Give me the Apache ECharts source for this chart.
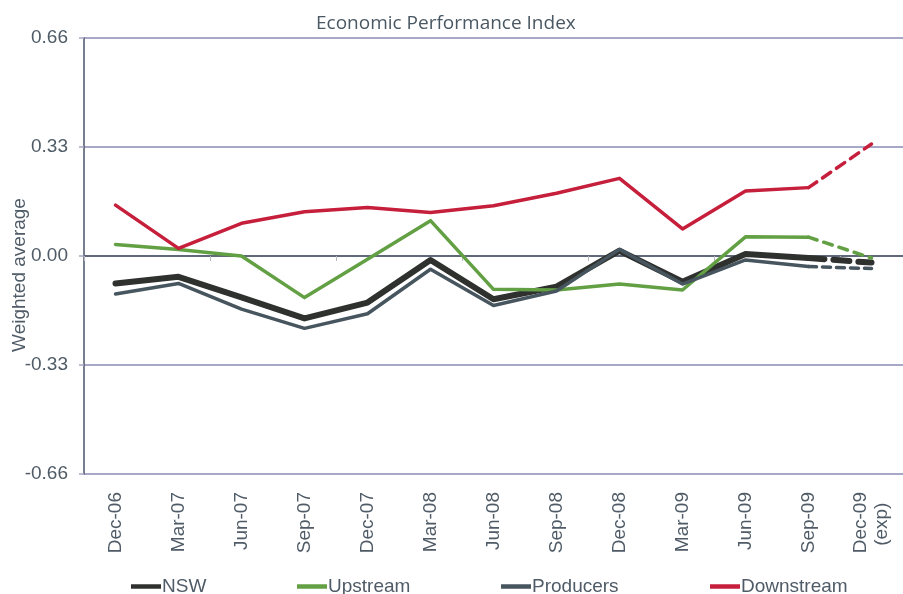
<!DOCTYPE html>
<html><head><meta charset="utf-8">
<script src="https://cdn.jsdelivr.net/npm/echarts@6/dist/echarts.min.js"></script>
<style>html,body{margin:0;padding:0;background:#fff}#c{width:903px;height:594px}</style>
</head><body><div id="c"></div>
<script>
const categories = ['Dec-06','Mar-07','Jun-07','Sep-07','Dec-07','Mar-08','Jun-08','Sep-08','Dec-08','Mar-09','Jun-09','Sep-09','Dec-09\n(exp)  '];
const nsw        = [-0.083,-0.063,-0.125,-0.189,-0.141,-0.012,-0.131,-0.093, 0.016,-0.078, 0.006,-0.006,-0.020];
const upstream   = [ 0.035, 0.020, 0.000,-0.126,-0.010, 0.107,-0.101,-0.103,-0.085,-0.103, 0.058, 0.057,-0.006];
const producers  = [-0.115,-0.083,-0.161,-0.219,-0.175,-0.040,-0.150,-0.106, 0.020,-0.085,-0.012,-0.032,-0.038];
const downstream = [ 0.154, 0.023, 0.099, 0.134, 0.147, 0.132, 0.152, 0.190, 0.235, 0.082, 0.197, 0.207, 0.339];
const yTicks = [-0.66,-0.33,0,0.33,0.66];

const names = ['NSW','Upstream','Producers','Downstream'];
const colors = ['#2f312f','#62a043','#47555f','#c61f3c'];
const widths = [6,3.5,3.5,3.5];
const dashes = [[16,9],[9,7],[8,6],[10,7]];
const datas = [nsw,upstream,producers,downstream];
const n = categories.length;

const series = [];
datas.forEach((d,i)=>{
  series.push({name:names[i],type:'line',xAxisIndex:0,symbol:'none',silent:true,
    data:d.map((v,k)=>k<=n-2?v:null),
    lineStyle:{color:colors[i],width:widths[i],cap:'round',join:'round'},itemStyle:{color:colors[i]},z:2+i});
  series.push({name:names[i],type:'line',xAxisIndex:0,symbol:'none',silent:true,
    data:d.map((v,k)=>k>=n-2?v:null),
    lineStyle:{color:colors[i],width:widths[i],type:dashes[i],cap:'round'},itemStyle:{color:colors[i]},z:2+i});
});

const legendLefts = [126,292,496,705];
const legends = names.map((nm,i)=>({
  data:[nm],left:legendLefts[i],top:572,icon:'rect',itemWidth:30,itemHeight:4.5,
  selectedMode:false,
  textStyle:{fontFamily:'Liberation Sans',fontSize:19,color:'#4f5b66',padding:[0,0,0,-4]}
}));

const txt = '#4f5b66';
const chart = echarts.init(document.getElementById('c'),null,{renderer:'canvas'});
chart.setOption({
  animation:false,
  backgroundColor:'#fff',
  title:{text:'Economic Performance Index',left:311,top:9,textStyle:{fontFamily:'Open Sans',fontWeight:'normal',fontSize:19,color:'#4a5863'}},
  legend:legends,
  grid:{left:84,right:-10,top:38,bottom:120,containLabel:false},
  xAxis:[{
    type:'category',data:categories,boundaryGap:true,position:'bottom',
    axisLine:{show:false,onZero:false},axisTick:{show:false},splitLine:{show:false},
    axisLabel:{rotate:90,margin:18,interval:0,fontFamily:'Liberation Sans',fontSize:19,color:txt,lineHeight:21}
  },{
    type:'category',data:categories,boundaryGap:true,position:'bottom',
    axisLine:{show:true,onZero:true,lineStyle:{color:'#4a5560',width:1.5}},
    axisTick:{show:true,interval:1,length:5,lineStyle:{color:'#b8b8c0',width:1}},
    axisLabel:{show:false},splitLine:{show:false}
  }],
  yAxis:{
    type:'value',min:yTicks[0],max:yTicks[yTicks.length-1],interval:0.33,
    axisLine:{show:true,lineStyle:{color:'#4a5568',width:1.5}},
    axisTick:{show:true,length:5,lineStyle:{color:'#a8a8c4',width:1.5}},
    splitLine:{show:true,lineStyle:{color:'#8a8ab5',width:1.5}},
    axisLabel:{margin:16,fontFamily:'Liberation Sans',fontSize:19,color:txt,formatter:v=>v.toFixed(2)}
  },
  graphic:[{type:'text',x:20,y:275,rotation:Math.PI/2,
    style:{text:'Weighted average',fontFamily:'Liberation Sans',fontSize:19,fill:txt,textAlign:'center',textVerticalAlign:'middle'}}],
  series:series
});
</script></body></html>
